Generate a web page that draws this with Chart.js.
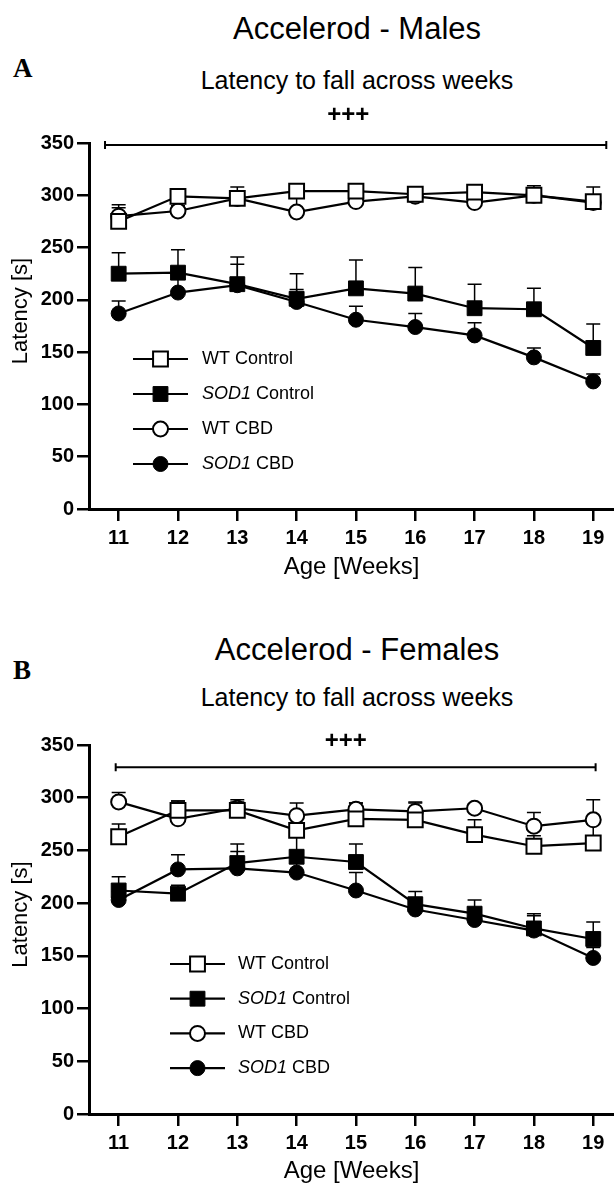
<!DOCTYPE html>
<html>
<head>
<meta charset="utf-8">
<script src="https://cdn.jsdelivr.net/npm/chart.js@4.4.1/dist/chart.umd.min.js"></script>
<style>
  html, body { margin: 0; padding: 0; background: #fff; }
  body { width: 614px; height: 1184px; overflow: hidden; position: relative; font-family: "Liberation Sans", Arial, sans-serif; color: #000; }
  .box { position: absolute; left: 0; width: 614px; }
  .titulo { position: absolute; left: 57px; width: 600px; text-align: center; line-height: 1; transform: translateY(-50%); font-size: 31px; white-space: nowrap; }
  .sub { font-size: 25px; }
  .letra { position: absolute; left: 13px; font-family: "Liberation Serif", "Times New Roman", serif; font-weight: bold; font-size: 27px; line-height: 1; transform: translateY(-50%); }
</style>
</head>
<body>
  <div class="titulo" style="top:28px">Accelerod - Males</div>
  <div class="letra" style="top:68px">A</div>
  <div class="titulo sub" style="top:80px">Latency to fall across weeks</div>
  <div class="box" style="top:0; height:600px"><canvas id="graficoMachos" width="614" height="600"></canvas></div>

  <div class="titulo" style="top:649px">Accelerod - Females</div>
  <div class="letra" style="top:670px">B</div>
  <div class="titulo sub" style="top:697px">Latency to fall across weeks</div>
  <div class="box" style="top:600px; height:590px"><canvas id="graficoFemeas" width="614" height="590"></canvas></div>

<script>
// ------------------- dados -------------------
const semanas = [11, 12, 13, 14, 15, 16, 17, 18, 19];
const rotulos = ['WT Control', 'SOD1 Control', 'WT CBD', 'SOD1 CBD'];
const ticksY = [0, 50, 100, 150, 200, 250, 300, 350];

// machos (média e erro, só a barra de cima)
const machoWtControl = [275, 299, 297, 304, 304, 301, 303, 300, 294];
const machoWtControlErr = [16, 4, 11, 5, 4, 3, 4, 9, 14];
const machoSodControl = [225, 226, 215, 201, 211, 206, 192, 191, 154];
const machoSodControlErr = [20, 22, 26, 24, 27, 25, 23, 20, 23];
const machoWtCbd = [280, 285, 297, 284, 294, 299, 293, 300, 293];
const machoWtCbdErr = [8, 5, 6, 15, 5, 4, 5, 6, 5];
const machoSodCbd = [187, 207, 214, 198, 181, 174, 166, 145, 122];
const machoSodCbdErr = [12, 15, 20, 12, 13, 13, 12, 9, 7];

// fêmeas
const femeaWtControl = [263, 288, 288, 269, 280, 279, 265, 254, 257];
const femeaWtControlErr = [12, 9, 10, 14, 15, 16, 14, 10, 18];
const femeaSodControl = [212, 209, 238, 244, 239, 199, 190, 176, 166];
const femeaSodControlErr = [13, 8, 18, 20, 17, 12, 13, 14, 16];
const femeaWtCbd = [296, 280, 290, 283, 289, 287, 290, 273, 279];
const femeaWtCbdErr = [9, 17, 6, 12, 6, 9, 4, 13, 19];
const femeaSodCbd = [203, 232, 233, 229, 212, 194, 184, 174, 148];
const femeaSodCbdErr = [8, 14, 16, 10, 17, 8, 8, 14, 10];

// ------------------- estilos -------------------
const fonte = '"Liberation Sans", Arial, sans-serif';
const estilos = [
  { pointStyle: 'rect', radius: 10.5, fundo: '#fff', borda: 2 },
  { pointStyle: 'rect', radius: 10.5, fundo: '#000', borda: 1 },
  { pointStyle: 'circle', radius: 7.5, fundo: '#fff', borda: 2 },
  { pointStyle: 'circle', radius: 7.5, fundo: '#000', borda: 1 },
];

function montaDatasets(series, erros) {
  return series.map((valores, i) => ({
    label: rotulos[i],
    data: semanas.map((w, j) => ({ x: w, y: valores[j] })),
    erros: erros[i],
    borderColor: '#000',
    borderWidth: 2.2,
    tension: 0,
    pointStyle: estilos[i].pointStyle,
    pointRadius: estilos[i].radius,
    pointBackgroundColor: estilos[i].fundo,
    pointBorderColor: '#000',
    pointBorderWidth: estilos[i].borda,
    clip: false,
  }));
}

// barras de erro, barra de significância, legenda e título do eixo y
const extras = {
  id: 'extras',
  beforeDatasetsDraw(chart) {
    const ctx = chart.ctx;
    const y = chart.scales.y;
    ctx.save();
    ctx.strokeStyle = '#000';
    ctx.lineWidth = 1.5;
    chart.data.datasets.forEach((ds, i) => {
      const meta = chart.getDatasetMeta(i);
      meta.data.forEach((pt, j) => {
        const topo = y.getPixelForValue(ds.data[j].y + ds.erros[j]);
        ctx.beginPath();
        ctx.moveTo(pt.x, pt.y);
        ctx.lineTo(pt.x, topo);
        ctx.moveTo(pt.x - 7, topo);
        ctx.lineTo(pt.x + 7, topo);
        ctx.stroke();
      });
    });
    ctx.restore();
  },
  afterDraw(chart, args, opts) {
    const ctx = chart.ctx;
    const { x, y } = chart.scales;
    const area = chart.chartArea;
    ctx.save();

    // barra +++
    const x1 = x.getPixelForValue(opts.sig.de);
    const x2 = x.getPixelForValue(opts.sig.ate);
    const yb = y.getPixelForValue(opts.sig.y);
    ctx.strokeStyle = '#000';
    ctx.lineWidth = 2;
    ctx.beginPath();
    ctx.moveTo(x1, yb); ctx.lineTo(x2, yb);
    ctx.moveTo(x1, yb - 4); ctx.lineTo(x1, yb + 4);
    ctx.moveTo(x2, yb - 4); ctx.lineTo(x2, yb + 4);
    ctx.stroke();
    ctx.fillStyle = '#000';
    ctx.font = 'bold 24px ' + fonte;
    ctx.textAlign = 'center';
    ctx.textBaseline = 'middle';
    ctx.fillText('+++', x.getPixelForValue(opts.sig.textoX), y.getPixelForValue(opts.sig.textoY));

    // título do eixo y
    ctx.save();
    ctx.translate(21, (area.top + area.bottom) / 2 - 15);
    ctx.rotate(-Math.PI / 2);
    ctx.font = '22px ' + fonte;
    ctx.fillText('Latency [s]', 0, 0);
    ctx.restore();

    // legenda
    const leg = opts.legenda;
    chart.data.datasets.forEach((ds, i) => {
      const ly = area.top + leg.topo + i * leg.passo;
      const lx = area.left + leg.esquerda;
      ctx.strokeStyle = '#000';
      ctx.lineWidth = 2.2;
      ctx.beginPath();
      ctx.moveTo(lx, ly); ctx.lineTo(lx + 55, ly);
      ctx.stroke();
      ctx.fillStyle = estilos[i].fundo;
      ctx.lineWidth = estilos[i].borda;
      Chart.helpers.drawPoint(ctx, { pointStyle: estilos[i].pointStyle, radius: estilos[i].radius, rotation: 0, borderWidth: estilos[i].borda }, lx + 27.5, ly);

      ctx.fillStyle = '#000';
      ctx.textAlign = 'left';
      let tx = area.left + leg.texto;
      let resto = ds.label;
      if (resto.startsWith('SOD1')) {
        ctx.font = 'italic 18px ' + fonte;
        ctx.fillText('SOD1', tx, ly);
        tx += ctx.measureText('SOD1').width;
        resto = resto.slice(4);
      }
      ctx.font = '18px ' + fonte;
      ctx.fillText(resto, tx, ly);
    });
    ctx.restore();
  }
};

function criaGrafico(id, datasets, cfg) {
  return new Chart(document.getElementById(id), {
    type: 'line',
    data: { datasets },
    plugins: [extras],
    options: {
      responsive: false,
      animation: false,
      events: [],
      layout: { autoPadding: false, padding: { top: cfg.topo, left: 0, right: 0, bottom: 0 } },
      plugins: {
        legend: { display: false },
        tooltip: { enabled: false },
        extras: cfg.extras,
      },
      scales: {
        x: {
          type: 'linear', min: 10.5, max: 19.35,
          afterBuildTicks: (s) => { s.ticks = semanas.map(v => ({ value: v })); },
          afterFit: (s) => { s.height = cfg.alturaX; },
          grid: { drawOnChartArea: false, tickLength: 12, color: '#000', lineWidth: 2.5 },
          border: { color: '#000', width: 3 },
          ticks: { color: '#000', font: { family: fonte, size: 20, weight: 'bold' }, padding: 5, maxRotation: 0, autoSkip: false },
          title: { display: true, text: 'Age [Weeks]', color: '#000', font: { family: fonte, size: 24 }, padding: { top: 0, bottom: cfg.padTitulo } },
        },
        y: {
          min: 0, max: 350,
          afterBuildTicks: (s) => { s.ticks = ticksY.map(v => ({ value: v })); },
          afterFit: (s) => { s.width = 89; },
          grid: { drawOnChartArea: false, tickLength: 12, color: '#000', lineWidth: 2.5 },
          border: { color: '#000', width: 3 },
          ticks: { color: '#000', font: { family: fonte, size: 20, weight: 'bold' }, padding: 3 },
        }
      }
    }
  });
}

// ------------------- gráficos -------------------
criaGrafico('graficoMachos',
  montaDatasets([machoWtControl, machoSodControl, machoWtCbd, machoSodCbd],
                [machoWtControlErr, machoSodControlErr, machoWtCbdErr, machoSodCbdErr]),
  {
    topo: 143, alturaX: 91, padTitulo: 18,
    extras: {
      sig: { de: 10.77, ate: 19.22, y: 348, textoX: 14.87, textoY: 376 },
      legenda: { esquerda: 44, texto: 113, topo: 216, passo: 35 },
    }
  });

criaGrafico('graficoFemeas',
  montaDatasets([femeaWtControl, femeaSodControl, femeaWtCbd, femeaSodCbd],
                [femeaWtControlErr, femeaSodControlErr, femeaWtCbdErr, femeaSodCbdErr]),
  {
    topo: 145, alturaX: 76, padTitulo: 4,
    extras: {
      sig: { de: 10.95, ate: 19.04, y: 329, textoX: 14.83, textoY: 353 },
      legenda: { esquerda: 81, texto: 149, topo: 219, passo: 34.7 },
    }
  });
</script>
</body>
</html>
